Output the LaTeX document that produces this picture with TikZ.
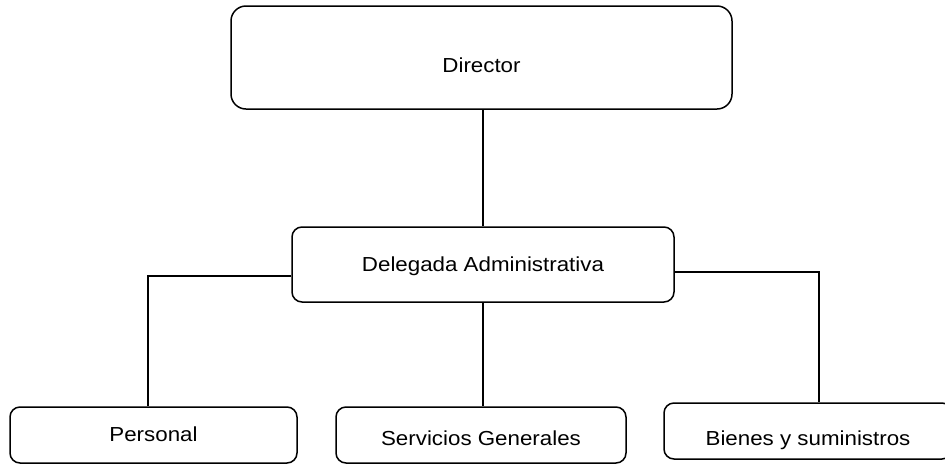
\documentclass[tikz,border=0pt]{standalone}
\usepackage{fontspec}
\setmainfont{Liberation Sans}[FakeStretch=1.1]
\begin{document}
\begin{tikzpicture}[x=1pt,y=-1pt,
  unit/.style={draw, line width=1.5pt, rounded corners=10pt, inner sep=0pt,
    minimum height=56pt, text height=14.5pt, text depth=0pt,
    font=\fontsize{20.3}{24}\selectfont},
  link/.style={line width=1.5pt}]

\useasboundingbox (0,0) rectangle (945,464);

\node[unit, rounded corners=15pt, minimum width=501pt, minimum height=103pt, text height=29.6pt] (director) at (481.5,57.5) {Director};
\node[unit, minimum width=382pt, minimum height=75pt] (delegada) at (483,264.5) {Delegada Administrativa};

\node[unit, minimum width=287pt, text depth=2.5pt] (personal) at (153.5,435) {Personal};
\node[unit, minimum width=290pt, text height=20pt] (servicios) at (481,435) {Servicios Generales};
\node[unit, minimum width=288pt, text height=28pt] (bienes) at (808,431) {Bienes y suministros};

\draw[link] (delegada.north) -- (delegada.north |- director.south);
\draw[link] (delegada.south) -- (delegada.south |- servicios.north);
\draw[link] ([yshift=-11.5pt]delegada.west) -| ([xshift=-5.5pt]personal.north);
\draw[link] ([yshift=-7.5pt]delegada.east) -| ([xshift=11pt]bienes.north);

\end{tikzpicture}
\end{document}
